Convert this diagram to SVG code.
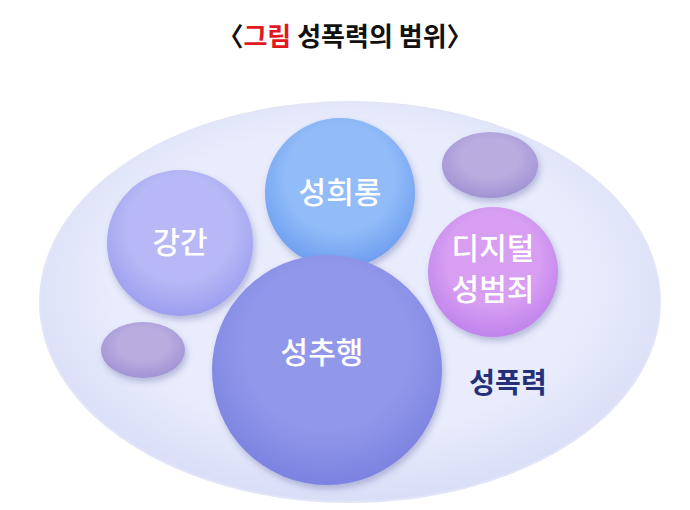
<svg xmlns="http://www.w3.org/2000/svg" width="690" height="510" viewBox="0 0 690 510">
<style>
text{font-family:"Noto Sans CJK KR","Noto Sans",sans-serif;font-weight:bold;text-anchor:middle}
.w{fill:#fff;font-size:30px;font-weight:500}
</style>
<defs>
<radialGradient id="bg" cx="0.5" cy="0.45" r="0.55"><stop offset="0.7" stop-color="#e8ecfc"/><stop offset="1" stop-color="#d9def7"/></radialGradient>
<radialGradient id="g1" cx="0.5" cy="0.4" r="0.6"><stop offset="0.6" stop-color="#92bcf8"/><stop offset="1" stop-color="#6d9ef0"/></radialGradient>
<radialGradient id="g2" cx="0.5" cy="0.4" r="0.6"><stop offset="0.6" stop-color="#b7b8f5"/><stop offset="1" stop-color="#9e9ef0"/></radialGradient>
<radialGradient id="g3" cx="0.5" cy="0.4" r="0.6"><stop offset="0.6" stop-color="#9198ea"/><stop offset="1" stop-color="#7b82e0"/></radialGradient>
<radialGradient id="g4" cx="0.5" cy="0.4" r="0.6"><stop offset="0.6" stop-color="#d79ef2"/><stop offset="1" stop-color="#c083ec"/></radialGradient>
<radialGradient id="g5" cx="0.5" cy="0.4" r="0.6"><stop offset="0.5" stop-color="#b9acdf"/><stop offset="1" stop-color="#a093d3"/></radialGradient>
<filter id="sh" x="-20%" y="-20%" width="140%" height="140%"><feDropShadow dx="2" dy="4" stdDeviation="3" flood-color="#5a5a9a" flood-opacity="0.35"/></filter>
</defs>
<text x="345" y="46" font-size="26" fill="#111">〈<tspan fill="#e0191f">그림</tspan> 성폭력의 범위〉</text>
<g id="outer"><ellipse cx="350" cy="302" rx="310" ry="200" fill="url(#bg)" stroke="#e2e5f8" stroke-width="2"/>
<text x="508" y="393" font-size="28" fill="#25307a">성폭력</text></g>
<g id="small1"><ellipse cx="490" cy="165" rx="48" ry="33" fill="url(#g5)" filter="url(#sh)"/></g>
<g id="small2"><ellipse cx="143" cy="350" rx="42" ry="28" fill="url(#g5)" filter="url(#sh)"/></g>
<g id="n1"><circle cx="340" cy="193" r="75" fill="url(#g1)" filter="url(#sh)"/><text class="w" x="340" y="203">성희롱</text></g>
<g id="n2"><circle cx="180" cy="243" r="73" fill="url(#g2)" filter="url(#sh)"/><text class="w" x="180" y="253">강간</text></g>
<g id="n3"><circle cx="327" cy="370" r="115" fill="url(#g3)" filter="url(#sh)"/><text class="w" x="322" y="363">성추행</text></g>
<g id="n4"><circle cx="493" cy="272" r="65" fill="url(#g4)" filter="url(#sh)"/><text class="w" x="493" y="259">디지털</text><text class="w" x="493" y="300">성범죄</text></g>
<g id="connectors"/>
</svg>
